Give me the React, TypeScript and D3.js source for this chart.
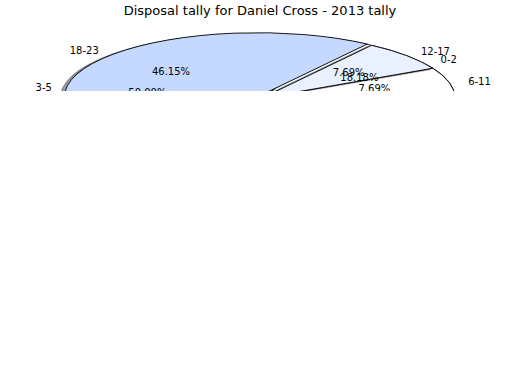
import React from "react";
import * as d3 from "d3";

// ---- data ----
const title = "Disposal tally for Daniel Cross - 2013 tally";

// earlier pie (drawn behind)
const backLabels = ["0-2", "24+", "3-5", "6-11", "12-17"];
const backValues = [4, 1, 11, 4, 2];
const backExplode = [0, 0, 0, 0, 0];

// 2013 pie (drawn in front)
const frontLabels = ["6-11", "12-17", "18-23", "0-2", "3-5"];
const frontValues = [1, 1, 6, 2, 3];
const frontExplode = [0, 0, 0.03, 0, 0];

const palette = ["#ffffff", "#e9f0ff", "#c5d8ff", "#9dbcfb", "#7aa2ee"];
const minPctForText = 5;

// ---- layout ----
const W = 520;
const H = 390;
const cx = 262;
const cy = 98;
const rx = 193;
const ry = 64;
const clipBottom = 91;
const shadowOff = 0.02;

function shade(c: string) {
  const col = d3.rgb(c);
  return d3.rgb(col.r * 0.3, col.g * 0.3, col.b * 0.3).formatHex();
}

type Slice = {
  key: string;
  path: string;
  color: string;
  ox: number;
  oy: number;
  theta: number;
  pct: number;
  label: string;
};

function buildPie(labels: string[], values: number[], explode: number[], id: string): Slice[] {
  const total = d3.sum(values);
  const pie = d3
    .pie<number>()
    .sort(null)
    .value((d) => d)
    .startAngle(Math.PI / 2)
    .endAngle(Math.PI / 2 - 2 * Math.PI);
  const arc = d3.arc<d3.PieArcDatum<number>>().innerRadius(0).outerRadius(1);
  return pie(values).map((p, i) => {
    const phi = (p.startAngle + p.endAngle) / 2;
    const theta = Math.PI / 2 - phi;
    const e = explode[i];
    return {
      key: id + i,
      path: arc(p) as string,
      color: palette[i % palette.length],
      ox: e * rx * Math.cos(theta),
      oy: -e * ry * Math.sin(theta),
      theta,
      pct: (values[i] / total) * 100,
      label: labels[i],
    };
  });
}

const pies = [
  buildPie(backLabels, backValues, backExplode, "b"),
  buildPie(frontLabels, frontValues, frontExplode, "f"),
];

export default function App() {
  const font = "DejaVu Sans, sans-serif";
  return (
    <svg width={W} height={H} style={{ display: "block", position: "absolute", left: 0, top: 0 }}>
      <rect x={0} y={0} width={W} height={H} fill="#ffffff" />
      <defs>
        <clipPath id="axclip">
          <rect x={0} y={0} width={W} height={clipBottom} />
        </clipPath>
      </defs>
      <text x={W / 2} y={15} textAnchor="middle" fontFamily={font} fontSize={13} fill="#000">
        {title}
      </text>
      <g clipPath="url(#axclip)">
        {pies.map((slices) =>
          slices.map((s) => (
            <g key={s.key}>
              <path
                d={s.path}
                transform={`translate(${cx + s.ox - shadowOff * rx},${cy + s.oy + shadowOff * ry}) scale(${rx},${ry})`}
                fill={shade(s.color)}
                fillOpacity={0.5}
                stroke={shade(s.color)}
                strokeOpacity={0.5}
                strokeWidth={1.4}
                vectorEffect="non-scaling-stroke"
              />
              <path
                d={s.path}
                transform={`translate(${cx + s.ox},${cy + s.oy}) scale(${rx},${ry})`}
                fill={s.color}
                stroke="#000"
                strokeWidth={0.9}
                strokeLinejoin="round"
                vectorEffect="non-scaling-stroke"
              />
            </g>
          ))
        )}
        {pies.map((slices) =>
          slices
            .filter((s) => s.pct >= minPctForText)
            .map((s) => {
              const c = Math.cos(s.theta);
              const sn = Math.sin(s.theta);
              const lx = cx + s.ox + 1.1 * rx * c;
              const ly = cy + s.oy - 1.1 * ry * sn;
              const px = cx + s.ox + 0.6 * rx * c;
              const py = cy + s.oy - 0.6 * ry * sn;
              return (
                <g key={"t" + s.key}>
                  <text
                    x={lx}
                    y={ly}
                    textAnchor={c > 0 ? "start" : "end"}
                    dominantBaseline="central"
                    fontFamily={font}
                    fontSize={10}
                    fill="#000"
                  >
                    {s.label}
                  </text>
                  <text
                    x={px}
                    y={py}
                    textAnchor="middle"
                    dominantBaseline="central"
                    fontFamily={font}
                    fontSize={10}
                    fill="#000"
                  >
                    {s.pct.toFixed(2) + "%"}
                  </text>
                </g>
              );
            })
        )}
      </g>
    </svg>
  );
}
